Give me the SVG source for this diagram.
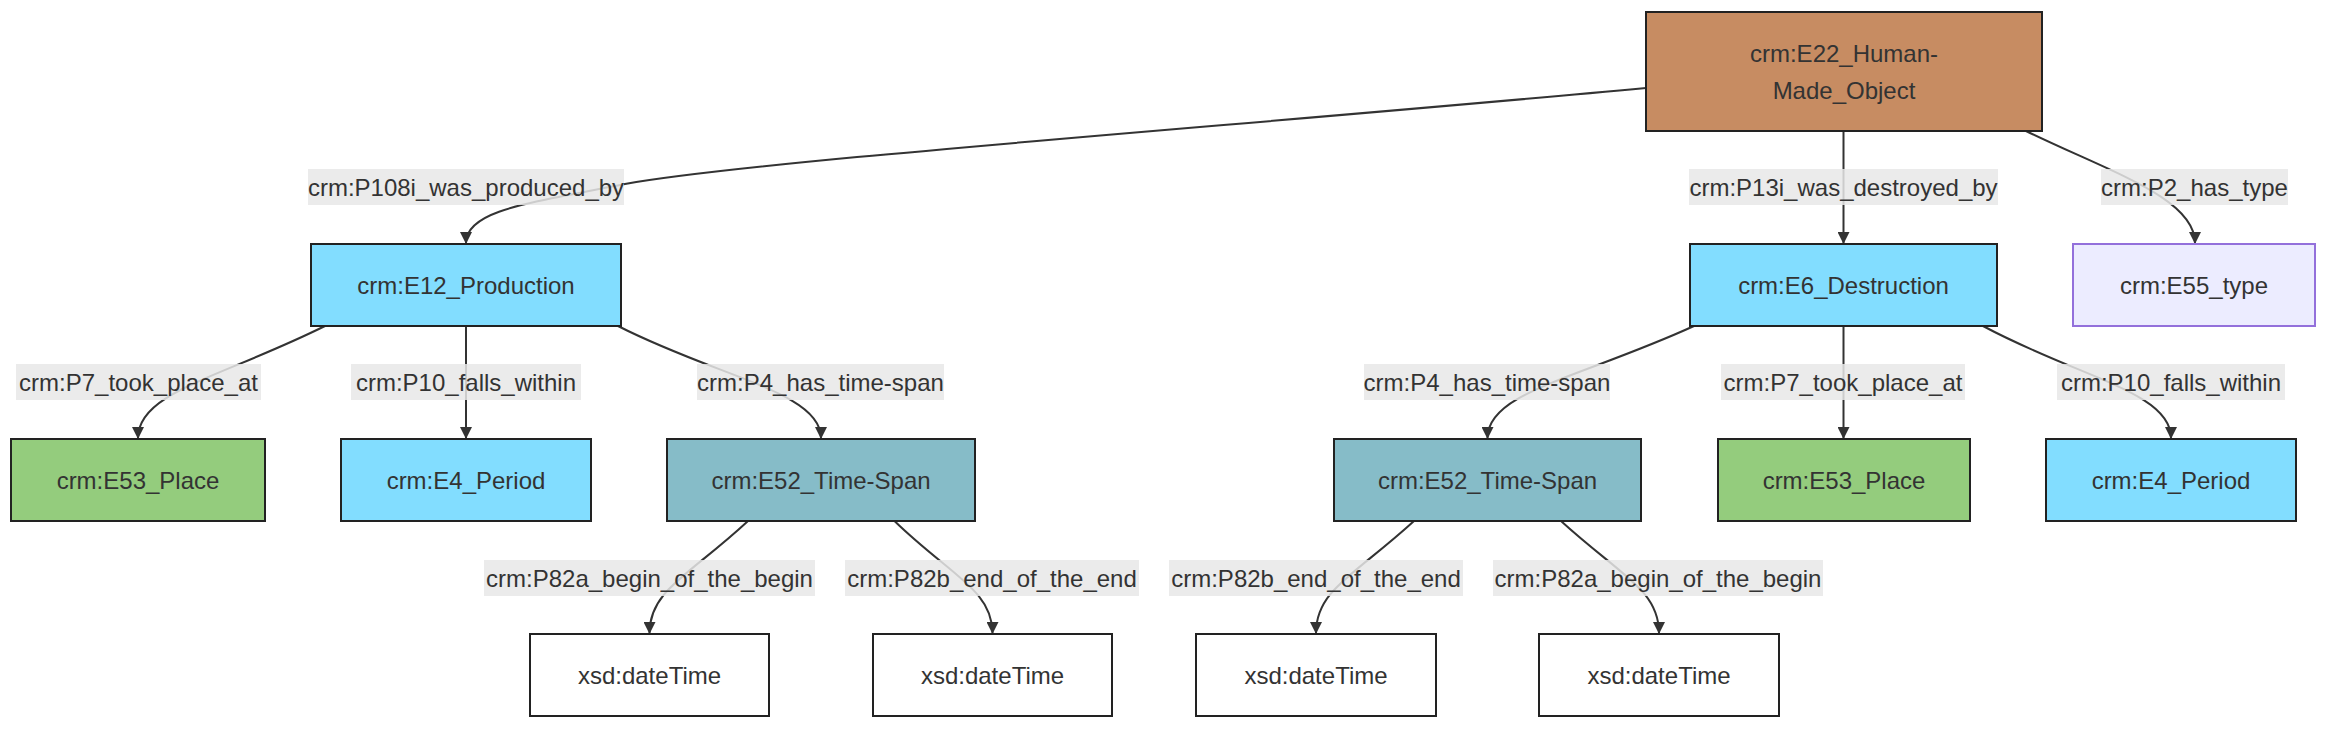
<svg xmlns="http://www.w3.org/2000/svg" width="2352" height="738" viewBox="0 0 2352 738">
<style>
  text { font-family: "Liberation Sans", Arial, sans-serif; font-size: 24px; fill: #333; text-anchor: middle; dominant-baseline: central; }
  .node rect { stroke: #222; stroke-width: 2; }
  .e22 rect { fill: #C78C62; }
  .blue rect { fill: #82DDFF; }
  .green rect { fill: #94CC7D; }
  .teal rect { fill: #86BCC8; }
  .type rect { fill: #ECECFF; stroke: #9370DB; }
  .lit rect { fill: #FFFFFF; }
  .edge { fill: none; stroke: #333; stroke-width: 2; marker-end: url(#arrow); }
  .lbl rect { fill: #E8E8E8; opacity: 0.85; }
</style>
<defs>
  <marker id="arrow" viewBox="0 0 12 12" refX="11" refY="6" markerWidth="12" markerHeight="12" markerUnits="userSpaceOnUse" orient="auto">
    <path d="M0,0 L12,6 L0,12 z" fill="#333"/>
  </marker>
</defs>
<rect width="2352" height="738" fill="#FFFFFF"/>
<g id="connectors">
  <path class="edge" d="M1646,88 C1250,125 760,160 625,184 C530,203 466,210 466,243"/>
  <path class="edge" d="M1843.5,131 L1843.5,243"/>
  <path class="edge" d="M2026,131 C2110,172 2195,198 2195,243"/>
  <path class="edge" d="M325,326 C220,378 138,392 138,438"/>
  <path class="edge" d="M466,326 L466,438"/>
  <path class="edge" d="M618,326 C720,378 821,392 821,438"/>
  <path class="edge" d="M1694,326 C1580,378 1487.5,392 1487.5,438"/>
  <path class="edge" d="M1843.5,326 L1843.5,438"/>
  <path class="edge" d="M1983,326 C2080,378 2171,392 2171,438"/>
  <path class="edge" d="M748,521 C690,575 649.5,590 649.5,633"/>
  <path class="edge" d="M894.5,521 C950,575 992.5,590 992.5,633"/>
  <path class="edge" d="M1414,521 C1355,575 1316,590 1316,633"/>
  <path class="edge" d="M1561,521 C1620,575 1659,590 1659,633"/>
</g>
<g id="edge-labels">
  <g class="lbl"><rect x="308" y="169" width="316" height="36"/><text x="466" y="187">crm:P108i_was_produced_by</text></g>
  <g class="lbl"><rect x="1689" y="169" width="309" height="36"/><text x="1843.5" y="187">crm:P13i_was_destroyed_by</text></g>
  <g class="lbl"><rect x="2101" y="169" width="187" height="36"/><text x="2194.5" y="187">crm:P2_has_type</text></g>
  <g class="lbl"><rect x="16" y="364" width="245" height="36"/><text x="138.5" y="382">crm:P7_took_place_at</text></g>
  <g class="lbl"><rect x="351" y="364" width="230" height="36"/><text x="466" y="382">crm:P10_falls_within</text></g>
  <g class="lbl"><rect x="697" y="364" width="247" height="36"/><text x="820.5" y="382">crm:P4_has_time-span</text></g>
  <g class="lbl"><rect x="1364" y="364" width="246" height="36"/><text x="1487" y="382">crm:P4_has_time-span</text></g>
  <g class="lbl"><rect x="1721" y="364" width="244" height="36"/><text x="1843" y="382">crm:P7_took_place_at</text></g>
  <g class="lbl"><rect x="2057" y="364" width="228" height="36"/><text x="2171" y="382">crm:P10_falls_within</text></g>
  <g class="lbl"><rect x="484" y="560" width="331" height="36"/><text x="649.5" y="578">crm:P82a_begin_of_the_begin</text></g>
  <g class="lbl"><rect x="845" y="560" width="294" height="36"/><text x="992" y="578">crm:P82b_end_of_the_end</text></g>
  <g class="lbl"><rect x="1169" y="560" width="294" height="36"/><text x="1316" y="578">crm:P82b_end_of_the_end</text></g>
  <g class="lbl"><rect x="1493" y="560" width="330" height="36"/><text x="1658" y="578">crm:P82a_begin_of_the_begin</text></g>
</g>
<g id="E22" class="node e22"><rect x="1646" y="12" width="396" height="119"/><text x="1844" y="53">crm:E22_Human-</text><text x="1844" y="90">Made_Object</text></g>
<g id="E12" class="node blue"><rect x="311" y="244" width="310" height="82"/><text x="466" y="285">crm:E12_Production</text></g>
<g id="E6" class="node blue"><rect x="1690" y="244" width="307" height="82"/><text x="1843.5" y="285">crm:E6_Destruction</text></g>
<g id="E55" class="node type"><rect x="2073" y="244" width="242" height="82"/><text x="2194" y="285">crm:E55_type</text></g>
<g id="E53a" class="node green"><rect x="11" y="439" width="254" height="82"/><text x="138" y="480">crm:E53_Place</text></g>
<g id="E4a" class="node blue"><rect x="341" y="439" width="250" height="82"/><text x="466" y="480">crm:E4_Period</text></g>
<g id="E52a" class="node teal"><rect x="667" y="439" width="308" height="82"/><text x="821" y="480">crm:E52_Time-Span</text></g>
<g id="E52b" class="node teal"><rect x="1334" y="439" width="307" height="82"/><text x="1487.5" y="480">crm:E52_Time-Span</text></g>
<g id="E53b" class="node green"><rect x="1718" y="439" width="252" height="82"/><text x="1844" y="480">crm:E53_Place</text></g>
<g id="E4b" class="node blue"><rect x="2046" y="439" width="250" height="82"/><text x="2171" y="480">crm:E4_Period</text></g>
<g id="xsd1" class="node lit"><rect x="530" y="634" width="239" height="82"/><text x="649.5" y="675">xsd:dateTime</text></g>
<g id="xsd2" class="node lit"><rect x="873" y="634" width="239" height="82"/><text x="992.5" y="675">xsd:dateTime</text></g>
<g id="xsd3" class="node lit"><rect x="1196" y="634" width="240" height="82"/><text x="1316" y="675">xsd:dateTime</text></g>
<g id="xsd4" class="node lit"><rect x="1539" y="634" width="240" height="82"/><text x="1659" y="675">xsd:dateTime</text></g>
</svg>
